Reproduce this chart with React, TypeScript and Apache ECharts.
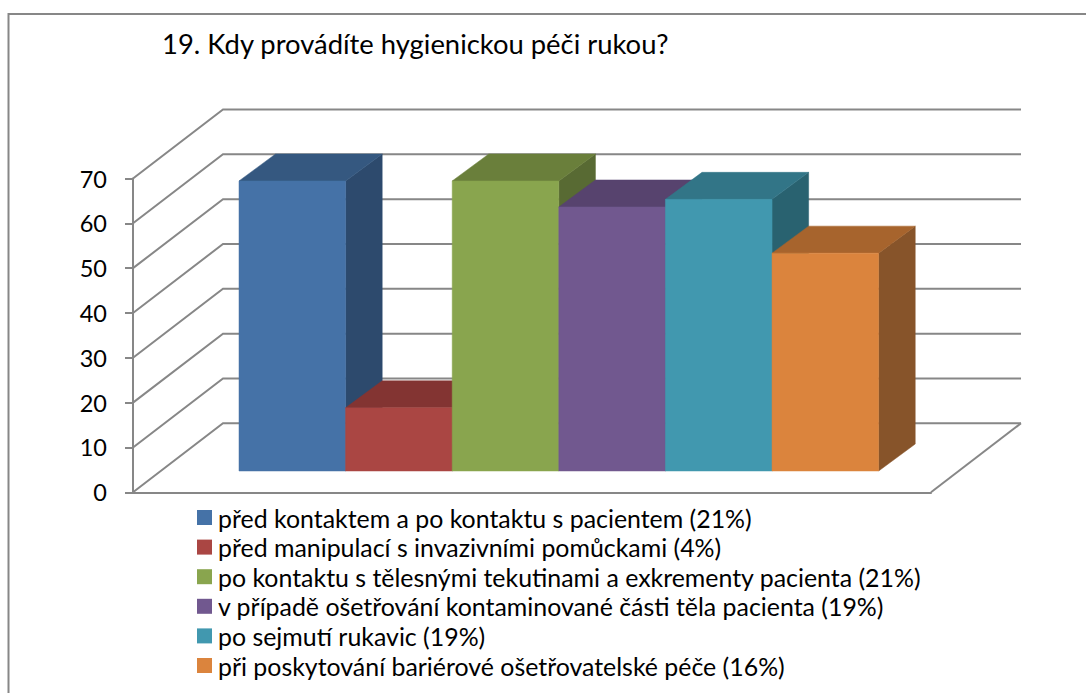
import React, { useEffect, useRef } from "react";
import * as echarts from "echarts";

const titleText = "19. Kdy provádíte hygienickou péči rukou?";
const categories = [
  "před kontaktem a po kontaktu s pacientem (21%)",
  "před manipulací s invazivními pomůckami (4%)",
  "po kontaktu s tělesnými tekutinami a exkrementy pacienta (21%)",
  "v případě ošetřování kontaminované části těla pacienta (19%)",
  "po sejmutí rukavic (19%)",
  "při poskytování bariérové ošetřovatelské péče (16%)",
];
const values = [64.7, 14.1, 64.7, 58.9, 60.6, 48.6];
const frontColors = ["#4572A7", "#AA4643", "#89A54E", "#71588F", "#4198AF", "#DB843D"];
const topColors = ["#355880", "#833432", "#6A7F3B", "#57436E", "#327587", "#A7642D"];
const sideColors = ["#2D4A6D", "#6E2D2B", "#586A33", "#4A3A5E", "#296270", "#87542A"];
const ticks = [0, 10, 20, 30, 40, 50, 60, 70];

const wallDepth = [90, -69];
const barOffset = [27.8, -21.3];
const barDepth = [36.6, -27];
const lineColor = "#878787";
const xMin = -0.7336;
const xMax = 6.752;

export default function App() {
  const ref = useRef<HTMLDivElement>(null);
  useEffect(() => {
    const chart = echarts.init(ref.current!, null, { renderer: "svg" });
    const lineStyle = { stroke: lineColor, lineWidth: 2, fill: "none" };

    const wallSeries = {
      type: "custom",
      name: "walls",
      silent: true,
      clip: false,
      z: 1,
      data: ticks.map((t) => [xMin, t]),
      renderItem: (_p: any, api: any) => {
        const v = api.value(1);
        const a = api.coord([xMin, v]);
        const b = api.coord([xMax, v]);
        const back = (p: number[]) => [p[0] + wallDepth[0], p[1] + wallDepth[1]];
        const children: any[] = [
          { type: "polyline", shape: { points: [a, back(a), back(b)] }, style: lineStyle },
        ];
        if (v === 0) {
          children.push({ type: "line", shape: { x1: b[0], y1: b[1], x2: back(b)[0], y2: back(b)[1] }, style: lineStyle });
        }
        return { type: "group", children };
      },
    };

    const barSeries = categories.map((name, i) => ({
      type: "custom",
      name,
      silent: true,
      clip: false,
      z: 2 + i,
      itemStyle: { color: frontColors[i] },
      data: [[i, values[i]]],
      renderItem: (_p: any, api: any) => {
        const idx = api.value(0);
        const val = api.value(1);
        const bl = api.coord([idx, 0]);
        const tr = api.coord([idx + 1, val]);
        const x0 = bl[0] + barOffset[0];
        const x1 = tr[0] + barOffset[0];
        const y0 = bl[1] + barOffset[1];
        const y1 = tr[1] + barOffset[1];
        const dx = barDepth[0];
        const dy = barDepth[1];
        const poly = (points: number[][], fill: string) => ({
          type: "polygon",
          shape: { points },
          style: { fill, stroke: fill, lineWidth: 0.5 },
        });
        return {
          type: "group",
          children: [
            poly([[x1, y1], [x1 + dx, y1 + dy], [x1 + dx, y0 + dy], [x1, y0]], sideColors[i]),
            poly([[x0, y1], [x0 + dx, y1 + dy], [x1 + dx, y1 + dy], [x1, y1]], topColors[i]),
            poly([[x0, y0], [x0, y1], [x1, y1], [x1, y0]], frontColors[i]),
          ],
        };
      },
    }));

    chart.setOption({
      animation: false,
      backgroundColor: "#ffffff",
      title: {
        text: titleText,
        left: 162,
        top: 30,
        padding: 0,
        textStyle: { fontFamily: "Lato", fontSize: 27.4, fontWeight: "normal", color: "#000000" },
      },
      grid: { left: 133, top: 178.5, width: 798, height: 313.8, containLabel: false },
      xAxis: {
        type: "value",
        min: xMin,
        max: xMax,
        axisLine: { show: true, onZero: false, lineStyle: { color: lineColor, width: 2 } },
        axisTick: { show: false },
        axisLabel: { show: false },
        splitLine: { show: false },
      },
      yAxis: {
        type: "value",
        min: 0,
        max: 70,
        interval: 10,
        axisLine: { show: true, onZero: false, lineStyle: { color: lineColor, width: 2 } },
        axisTick: { show: true, length: 8, lineStyle: { color: lineColor, width: 2 } },
        axisLabel: { margin: 26, fontFamily: "Lato", fontSize: 23.5, color: "#000000" },
        splitLine: { show: false },
      },
      legend: {
        data: categories,
        orient: "vertical",
        left: 197,
        top: 505,
        padding: 0,
        itemWidth: 15,
        itemHeight: 15,
        itemGap: 4.6,
        icon: "rect",
        selectedMode: false,
        textStyle: { fontFamily: "Lato", fontSize: 24.9, lineHeight: 25, color: "#000000", padding: [0, 0, 0, 1] },
      },
      graphic: [
        {
          type: "polyline",
          silent: true,
          shape: { points: [[8.5, 693], [8.5, 14], [1086, 14]] },
          style: { stroke: lineColor, lineWidth: 2, fill: "none" },
        },
      ],
      series: [wallSeries, ...barSeries],
    });
    return () => chart.dispose();
  }, []);
  return <div ref={ref} style={{ position: "fixed", left: 0, top: 0, width: 1086, height: 693 }} />;
}
